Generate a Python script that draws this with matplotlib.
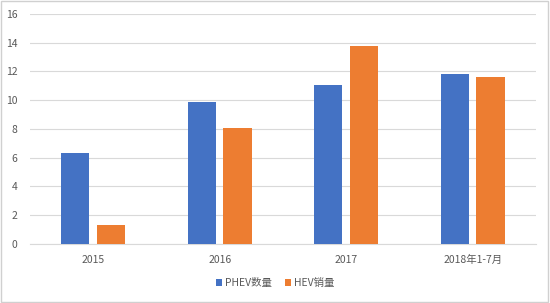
import matplotlib
matplotlib.use("Agg")
import matplotlib.pyplot as plt
import numpy as np
from matplotlib.patches import Rectangle

plt.rcParams['font.family'] = ['Noto Sans CJK SC', 'DejaVu Sans']

categories = ["2015", "2016", "2017", "2018年1-7月"]
phev = [6.35, 9.85, 11.05, 11.8]
hev = [1.3, 8.08, 13.75, 11.6]
series_names = ["PHEV数量", "HEV销量"]
yticks = [0, 2, 4, 6, 8, 10, 12, 14, 16]

fig = plt.figure(figsize=(5.5, 3.03), dpi=100)
ax = fig.add_axes([0.0545, 0.1957, 0.92, 0.758])

x = np.arange(len(categories))
w = 0.225
off = 0.142
ax.bar(x - off, phev, w, color="#4472C4", label=series_names[0], zorder=3)
ax.bar(x + off, hev, w, color="#ED7D31", label=series_names[1], zorder=3)

ax.set_xlim(-0.5, len(categories) - 0.5)
ax.set_ylim(0, 16)
ax.set_yticks(yticks)
ax.set_xticks(x)
ax.set_xticklabels(categories)
ax.tick_params(axis='both', length=0, labelsize=7.5, colors="#595959")
ax.tick_params(axis='y', pad=9)
ax.tick_params(axis='x', pad=8)
ax.grid(axis='y', color="#d9d9d9", linewidth=0.8, zorder=0)
for s in ['top', 'right', 'left']:
    ax.spines[s].set_visible(False)
ax.spines['bottom'].set_color("#d9d9d9")
ax.spines['bottom'].set_linewidth(0.8)

leg = fig.legend(loc='center', bbox_to_anchor=(0.5, 0.066), ncol=2, frameon=False,
                 fontsize=7.5, handlelength=0.6, handleheight=0.6, handletextpad=0.3,
                 columnspacing=1.2, labelcolor="#595959")

fig.patches.append(Rectangle((0.002, 0.003), 0.994, 0.994, transform=fig.transFigure,
                             fill=False, edgecolor="#d0d0d0", linewidth=1.0))

fig.savefig("out.png", dpi=100)
